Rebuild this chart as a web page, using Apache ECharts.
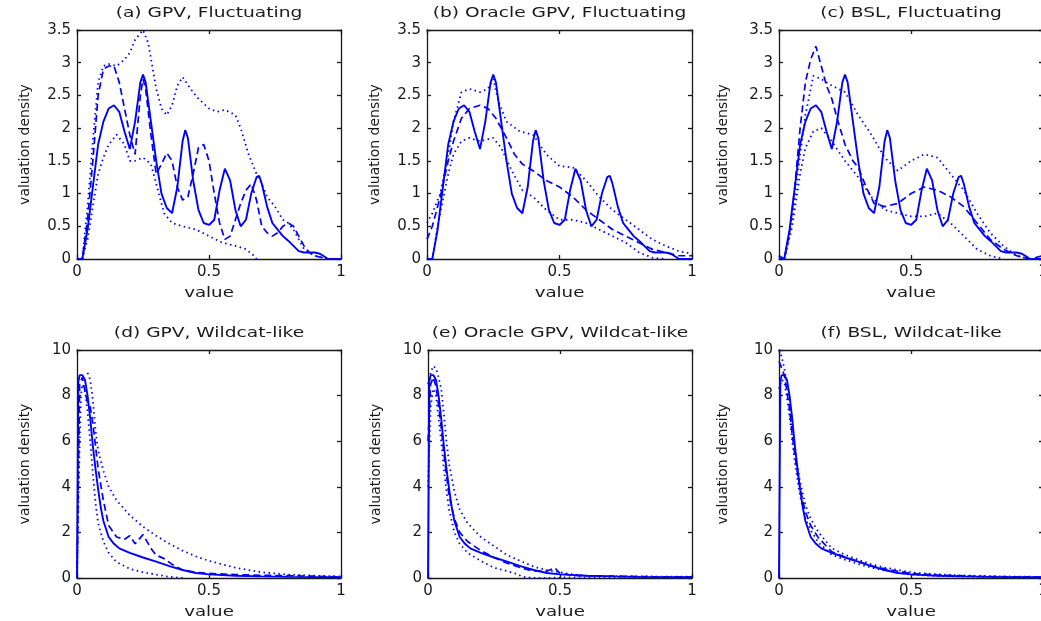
<!DOCTYPE html>
<html>
<head>
<meta charset="utf-8">
<script src="https://cdn.jsdelivr.net/npm/echarts@6/dist/echarts.min.js"></script>
<style>
html,body{margin:0;padding:0;background:#fff;}
#chart{width:1041px;height:621px;}
</style>
</head>
<body>
<div id="chart"></div>
<script>
// ---------- DATA ----------
const panelTitles = ['(a) GPV, Fluctuating','(b) Oracle GPV, Fluctuating','(c) BSL, Fluctuating',
                     '(d) GPV, Wildcat-like','(e) Oracle GPV, Wildcat-like','(f) BSL, Wildcat-like'];
const xName = 'value';
const yName = 'valuation density';
const xTicks = [0, 0.5, 1];
const yTicksFluct = [0, 0.5, 1, 1.5, 2, 2.5, 3, 3.5];
const yTicksWild = [0, 2, 4, 6, 8, 10];

// true fluctuating density (solid)
const trueFlucX = [0,0.02,0.04,0.06,0.08,0.1,0.12,0.14,0.16,0.18,0.2,0.22,0.24,0.25,0.26,0.28,0.3,0.32,0.34,0.36,0.38,0.4,0.41,0.42,0.44,0.46,0.48,0.5,0.52,0.54,0.56,0.58,0.6,0.62,0.64,0.66,0.68,0.69,0.7,0.72,0.74,0.76,0.78,0.8,0.82,0.84,0.86,0.88,0.9,0.92,0.94,0.95,1];
const trueFlucY = [0,0,0.45,1.1,1.75,2.1,2.3,2.35,2.25,1.95,1.68,2.1,2.7,2.82,2.7,2.1,1.5,1.0,0.78,0.7,1.1,1.8,1.97,1.85,1.2,0.75,0.55,0.52,0.6,1.05,1.38,1.2,0.75,0.5,0.6,1.0,1.25,1.27,1.15,0.8,0.55,0.45,0.35,0.28,0.2,0.12,0.1,0.1,0.1,0.08,0.03,0,0];

// (a) GPV fluctuating
const aMeanX = [0,0.02,0.04,0.06,0.08,0.1,0.12,0.14,0.16,0.18,0.2,0.22,0.24,0.25,0.26,0.28,0.3,0.32,0.34,0.36,0.38,0.4,0.42,0.44,0.46,0.48,0.5,0.52,0.54,0.56,0.58,0.6,0.62,0.64,0.66,0.68,0.7,0.72,0.74,0.76,0.78,0.8,0.82,0.84,0.86,0.88,0.9,0.95,1];
const aMeanY = [0,0,0.6,1.5,2.5,2.9,2.95,2.95,2.7,2.3,1.9,1.6,2.5,2.75,2.6,1.9,1.3,1.45,1.62,1.5,1.1,0.9,0.95,1.3,1.7,1.75,1.5,1.0,0.55,0.3,0.35,0.6,0.85,1.05,1.15,0.9,0.5,0.4,0.35,0.4,0.5,0.55,0.5,0.35,0.2,0.1,0.05,0,0];
const aUpX = [0.02,0.04,0.06,0.08,0.1,0.12,0.15,0.18,0.2,0.22,0.25,0.27,0.3,0.32,0.34,0.36,0.38,0.4,0.43,0.46,0.5,0.53,0.56,0.6,0.62,0.65,0.68,0.7,0.72,0.75,0.78,0.8,0.82,0.84,0.86,0.9,0.95];
const aUpY = [0,0.8,1.8,2.7,2.95,2.98,2.95,3.05,3.15,3.35,3.5,3.3,2.6,2.3,2.2,2.35,2.65,2.78,2.6,2.45,2.3,2.25,2.28,2.2,2.0,1.6,1.3,1.15,0.95,0.8,0.6,0.55,0.45,0.3,0.15,0.05,0];
const aLoX = [0.02,0.04,0.06,0.08,0.1,0.12,0.15,0.18,0.2,0.22,0.25,0.28,0.3,0.33,0.36,0.4,0.45,0.5,0.55,0.6,0.64,0.67,0.68];
const aLoY = [0,0.3,0.8,1.3,1.55,1.75,1.9,1.75,1.5,1.5,1.55,1.45,1.15,0.7,0.55,0.5,0.45,0.35,0.25,0.2,0.15,0.05,0];

// (b) Oracle GPV fluctuating
const bMeanX = [0,0.02,0.05,0.08,0.1,0.13,0.16,0.2,0.23,0.26,0.3,0.33,0.36,0.4,0.45,0.5,0.55,0.6,0.65,0.7,0.75,0.8,0.85,0.9,0.95,1];
const bMeanY = [0.3,0.5,0.95,1.5,1.8,2.15,2.3,2.35,2.3,2.15,1.85,1.6,1.45,1.35,1.2,1.1,0.95,0.75,0.6,0.45,0.35,0.25,0.15,0.1,0.05,0.05];
const bUpX = [0,0.02,0.05,0.08,0.1,0.13,0.16,0.2,0.23,0.25,0.27,0.3,0.35,0.4,0.45,0.5,0.55,0.6,0.65,0.7,0.75,0.8,0.85,0.9,0.95,1];
const bUpY = [0.55,0.7,1.0,1.6,2.1,2.55,2.6,2.55,2.6,2.75,2.4,2.1,1.95,1.9,1.6,1.42,1.4,1.2,0.95,0.75,0.6,0.45,0.3,0.2,0.12,0.08];
const bLoX = [0,0.02,0.04,0.06,0.08,0.1,0.13,0.16,0.2,0.25,0.28,0.32,0.36,0.4,0.45,0.5,0.55,0.6,0.65,0.7,0.75,0.8,0.85,0.9];
const bLoY = [0,0,0.5,0.9,1.3,1.6,1.8,1.85,1.8,1.85,1.7,1.35,1.05,0.95,0.75,0.6,0.6,0.55,0.45,0.35,0.25,0.1,0.02,0];

// (c) BSL fluctuating
const cMeanX = [0,0.02,0.04,0.06,0.08,0.1,0.12,0.14,0.16,0.18,0.2,0.22,0.25,0.28,0.3,0.33,0.36,0.4,0.45,0.5,0.55,0.6,0.65,0.7,0.75,0.8,0.85,0.9,0.95,1];
const cMeanY = [0.05,0,0.4,1.1,2.0,2.7,3.05,3.25,2.95,2.65,2.45,2.15,1.75,1.5,1.4,1.1,0.85,0.8,0.85,1.0,1.1,1.05,0.95,0.8,0.55,0.3,0.15,0.05,0,0.05];
const cUpX = [0.02,0.05,0.08,0.1,0.13,0.16,0.2,0.25,0.3,0.35,0.4,0.45,0.5,0.55,0.6,0.65,0.7,0.75,0.8,0.85,0.9,0.95];
const cUpY = [0,0.6,1.6,2.2,2.8,2.75,2.65,2.55,2.2,1.9,1.55,1.35,1.5,1.6,1.55,1.3,1.05,0.7,0.4,0.2,0.05,0];
const cLoX = [0.02,0.05,0.08,0.1,0.13,0.16,0.2,0.25,0.3,0.35,0.4,0.45,0.5,0.55,0.6,0.65,0.7,0.75,0.8,0.85];
const cLoY = [0,0.5,1.3,1.7,1.95,2.0,1.8,1.5,1.25,0.95,0.75,0.7,0.65,0.65,0.7,0.55,0.35,0.15,0.05,0];

// true wildcat-like density (solid)
const trueWildX = [0,0.005,0.01,0.02,0.03,0.04,0.05,0.06,0.07,0.08,0.09,0.1,0.12,0.14,0.16,0.2,0.25,0.3,0.35,0.4,0.45,0.5,0.6,0.7,0.8,0.9,1];
const trueWildY = [0,8.6,8.9,8.9,8.7,8.0,7.0,5.8,4.8,3.9,3.1,2.5,1.8,1.5,1.3,1.1,0.9,0.72,0.52,0.35,0.22,0.16,0.1,0.07,0.05,0.04,0.03];

// (d) GPV wildcat
const dMeanX = [0,0.01,0.02,0.03,0.04,0.05,0.06,0.07,0.08,0.1,0.12,0.15,0.18,0.2,0.22,0.25,0.28,0.3,0.33,0.36,0.4,0.45,0.5,0.6,0.7,0.8,0.9,1];
const dMeanY = [0,8.5,8.8,8.2,7.7,7.5,6.8,5.8,4.8,3.4,2.3,1.8,1.7,1.85,1.5,1.9,1.3,1.0,0.85,0.6,0.35,0.25,0.2,0.15,0.12,0.1,0.08,0.05];
const dUpX = [0.04,0.05,0.06,0.07,0.08,0.1,0.12,0.15,0.2,0.25,0.3,0.35,0.4,0.45,0.5,0.6,0.7,0.8,0.9,1];
const dUpY = [9.0,8.7,7.8,6.5,5.6,4.7,4.0,3.4,2.75,2.25,1.85,1.5,1.2,0.95,0.75,0.45,0.25,0.15,0.1,0.07];
const dLoX = [0,0.005,0.01,0.015,0.02,0.03,0.04,0.05,0.06,0.07,0.08,0.1,0.12,0.15,0.2,0.25,0.3,0.35,0.4];
const dLoY = [0,3,6,8.0,8.5,8.3,7.3,6.0,4.6,3.3,2.4,1.6,1.1,0.7,0.4,0.25,0.15,0.05,0];

// (e) Oracle GPV wildcat
const eMeanX = [0,0.01,0.02,0.03,0.04,0.05,0.06,0.07,0.08,0.1,0.12,0.15,0.2,0.25,0.3,0.35,0.4,0.45,0.48,0.5,0.55,0.6,0.7,0.8,0.9,1];
const eMeanY = [6,8.5,8.8,8.4,7.6,6.6,5.5,4.5,3.6,2.6,2.0,1.6,1.2,0.9,0.65,0.45,0.3,0.3,0.45,0.2,0.12,0.1,0.08,0.06,0.05,0.05];
const eUpX = [0,0.01,0.02,0.03,0.04,0.05,0.06,0.07,0.08,0.1,0.12,0.15,0.2,0.25,0.3,0.35,0.4,0.45,0.5,0.55,0.6,0.7,0.8,0.9,1];
const eUpY = [8.5,9.0,9.3,9.2,8.8,8.3,7.2,6.0,5.0,3.8,3.0,2.4,1.8,1.4,1.0,0.75,0.5,0.35,0.25,0.15,0.1,0.08,0.07,0.06,0.06];
const eLoX = [0,0.01,0.02,0.03,0.04,0.05,0.06,0.07,0.08,0.1,0.12,0.15,0.2,0.25,0.3,0.33,0.36,0.4,0.45,0.5,0.6,0.7,0.8,0.9,1];
const eLoY = [4,7.5,8.3,8.0,7.0,6.0,4.8,3.8,3.0,2.0,1.5,1.1,0.75,0.45,0.3,0.2,0.05,0,0,0.02,0.03,0.03,0.03,0.03,0.03];

// (f) BSL wildcat
const fX = [0,0.01,0.02,0.03,0.04,0.05,0.06,0.07,0.08,0.1,0.12,0.15,0.2,0.25,0.3,0.35,0.4,0.5,0.6,0.7,0.8,0.9,1];
const fMeanY = [9.5,9.2,8.9,8.2,7.4,6.3,5.4,4.6,3.9,2.9,2.3,1.75,1.15,0.92,0.72,0.53,0.4,0.2,0.13,0.09,0.06,0.05,0.04];
const fUpY = [10,9.7,9.2,8.5,7.7,6.6,5.7,4.9,4.2,3.2,2.6,2.0,1.3,1.02,0.8,0.6,0.46,0.25,0.16,0.11,0.08,0.06,0.05];
const fLoY = [8.3,8.7,8.6,7.9,7.1,6.0,5.1,4.3,3.6,2.6,2.1,1.55,1.02,0.8,0.62,0.45,0.33,0.15,0.09,0.06,0.04,0.03,0.02];

// ---------- BUILD ----------
function zip(xs, ys){ return xs.map((x,i)=>[x, ys[i]]); }

const panels = [
  {true:[trueFlucX,trueFlucY], mean:[aMeanX,aMeanY], up:[aUpX,aUpY], lo:[aLoX,aLoY], yt:yTicksFluct},
  {true:[trueFlucX,trueFlucY], mean:[bMeanX,bMeanY], up:[bUpX,bUpY], lo:[bLoX,bLoY], yt:yTicksFluct},
  {true:[trueFlucX,trueFlucY], mean:[cMeanX,cMeanY], up:[cUpX,cUpY], lo:[cLoX,cLoY], yt:yTicksFluct},
  {true:[trueWildX,trueWildY], mean:[dMeanX,dMeanY], up:[dUpX,dUpY], lo:[dLoX,dLoY], yt:yTicksWild},
  {true:[trueWildX,trueWildY], mean:[eMeanX,eMeanY], up:[eUpX,eUpY], lo:[eLoX,eLoY], yt:yTicksWild},
  {true:[trueWildX,trueWildY], mean:[fX,fMeanY], up:[fX,fUpY], lo:[fX,fLoY], yt:yTicksWild}
];

const layout = [
  {left:77, top:30, width:264, height:229},
  {left:427, top:30, width:265, height:229},
  {left:779, top:30, width:264, height:229},
  {left:77, top:350, width:264, height:228},
  {left:428, top:350, width:264, height:228},
  {left:779, top:350, width:264, height:228}
];

const FONT = 'DejaVu Sans';
const AX = '#1a1a1a';
const BLUE = '#0000ff';

const grid = [], xAxis = [], yAxis = [], series = [], graphic = [];
panels.forEach((p, i) => {
  const L = layout[i];
  const cx = L.left + L.width/2, cy = L.top + L.height/2;
  grid.push(Object.assign({outerBoundsMode:'none', containLabel:false}, L));
  // panel title
  graphic.push({type:'text', x:cx, y:L.top - 17, scaleX:1.33, silent:true,
    style:{text:panelTitles[i], font:'14px "DejaVu Sans"', fill:AX, textAlign:'center', textVerticalAlign:'middle'}});
  // x axis name
  graphic.push({type:'text', x:cx, y:L.top + L.height + 34, scaleX:1.3, silent:true,
    style:{text:xName, font:'14px "DejaVu Sans"', fill:AX, textAlign:'center', textVerticalAlign:'middle'}});
  // y axis name
  graphic.push({type:'text', x:L.left - (i%3===2 ? 56 : 52), y:cy, rotation:Math.PI/2, scaleX:1.0, silent:true,
    style:{text:yName, font:'14px "DejaVu Sans"', fill:AX, textAlign:'center', textVerticalAlign:'middle'}});

  const yMin = p.yt[0], yMax = p.yt[p.yt.length-1], yInt = p.yt[1]-p.yt[0];
  const xMin = xTicks[0], xMax = xTicks[xTicks.length-1], xInt = xTicks[1]-xTicks[0];
  const lineCommon = {show:true, onZero:false, lineStyle:{color:AX, width:1.3}};
  const tickCommon = {show:true, inside:true, length:4, lineStyle:{color:AX, width:1.3}};
  xAxis.push({
    type:'value', gridIndex:i, min:xMin, max:xMax, interval:xInt, position:'bottom',
    axisLine:lineCommon, axisTick:tickCommon, splitLine:{show:false},
    axisLabel:{fontFamily:FONT, fontSize:15, color:AX, margin:6}
  });
  xAxis.push({
    type:'value', gridIndex:i, min:xMin, max:xMax, interval:xInt, position:'top',
    axisLine:lineCommon, axisTick:tickCommon, splitLine:{show:false}, axisLabel:{show:false}
  });
  yAxis.push({
    type:'value', gridIndex:i, min:yMin, max:yMax, interval:yInt, position:'left',
    axisLine:lineCommon, axisTick:tickCommon, splitLine:{show:false},
    axisLabel:{fontFamily:FONT, fontSize:15, color:AX, margin:6}
  });
  yAxis.push({
    type:'value', gridIndex:i, min:yMin, max:yMax, interval:yInt, position:'right',
    axisLine:lineCommon, axisTick:tickCommon, splitLine:{show:false}, axisLabel:{show:false}
  });
  const xi = 2*i, yi = 2*i;
  const base = {type:'line', xAxisIndex:xi, yAxisIndex:yi, showSymbol:false, symbol:'none', silent:true, animation:false, clip:true};
  series.push(Object.assign({}, base, {data:zip(p.up[0], p.up[1]), lineStyle:{color:BLUE, width:1.8, type:[1.5,3.5]}}));
  series.push(Object.assign({}, base, {data:zip(p.lo[0], p.lo[1]), lineStyle:{color:BLUE, width:1.8, type:[1.5,3.5]}}));
  series.push(Object.assign({}, base, {data:zip(p.mean[0], p.mean[1]), lineStyle:{color:BLUE, width:1.7, type:[7,4]}}));
  series.push(Object.assign({}, base, {data:zip(p.true[0], p.true[1]), lineStyle:{color:BLUE, width:1.9, type:'solid'}}));
});

const chart = echarts.init(document.getElementById('chart'), null, {renderer:'canvas'});
chart.setOption({
  animation:false,
  backgroundColor:'#ffffff',
  grid, xAxis, yAxis, series, graphic
});
</script>
</body>
</html>
